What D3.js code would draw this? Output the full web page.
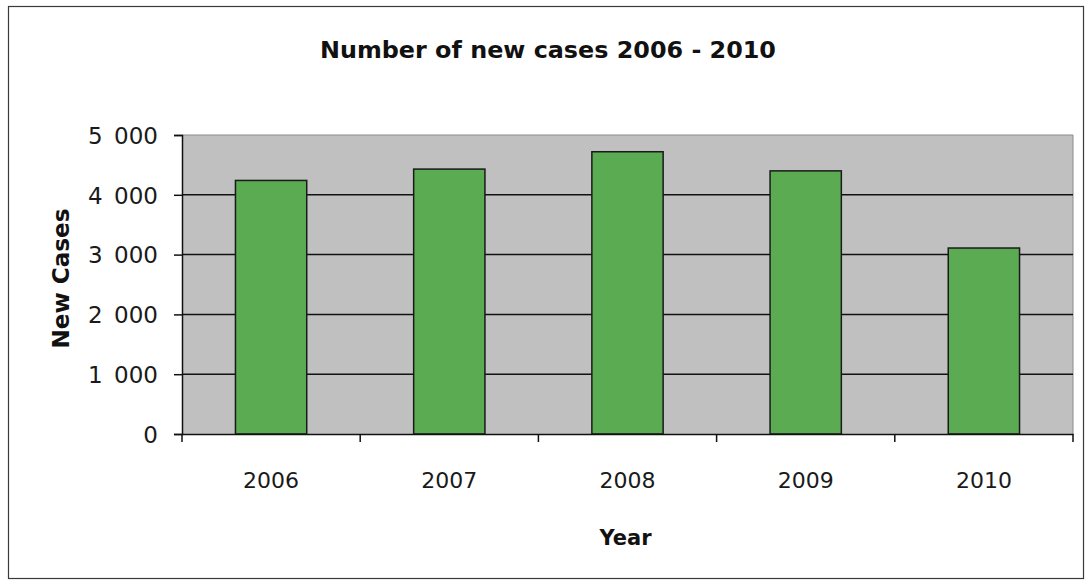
<!DOCTYPE html>
<html><head><meta charset="utf-8">
<script src="https://cdn.jsdelivr.net/npm/d3@7"></script>
<style>body{margin:0;background:#fff;} svg{display:block;}</style>
</head><body>
<svg id="c" width="1088" height="584"></svg>
<script>
const years = ["2006","2007","2008","2009","2010"];
const newCases = [4240, 4430, 4720, 4400, 3110];
const yTicks = [0, 1000, 2000, 3000, 4000, 5000];
const titleText = "Number of new cases 2006 - 2010";
const xTitle = "Year";
const yTitle = "New Cases";

const svg = d3.select("#c");
const W = 1088, H = 584;
const plot = {l: 182, r: 1073, t: 135, b: 434};
const fam = "'DejaVu Sans', Verdana, sans-serif";

svg.append("rect").attr("width", W).attr("height", H).attr("fill", "#fff");
svg.append("rect").attr("x", 8.5).attr("y", 6.5).attr("width", 1075).attr("height", 572)
  .attr("fill", "none").attr("stroke", "#3a3a3a").attr("stroke-width", 1.2);

function fit(sel, target) {
  const n = sel.node();
  let fs = parseFloat(sel.attr("font-size"));
  const w = n.getComputedTextLength();
  if (w > 0) sel.attr("font-size", (fs * target / w).toFixed(2));
}

const x = d3.scaleBand().domain(years).range([plot.l, plot.r]).paddingInner(0.6).paddingOuter(0.3);
const y = d3.scaleLinear().domain([0, 5000]).range([plot.b, plot.t]);

svg.append("rect").attr("x", plot.l).attr("y", plot.t).attr("width", plot.r - plot.l).attr("height", plot.b - plot.t)
  .attr("fill", "#c0c0c0");
svg.append("path").attr("d", `M${plot.l},${plot.t}H${plot.r}V${plot.b}`).attr("fill", "none")
  .attr("stroke", "#8c8c8c").attr("stroke-width", 1);

svg.append("g").selectAll("line").data(yTicks.filter(d => d > 0 && d < 5000)).join("line")
  .attr("x1", plot.l).attr("x2", plot.r).attr("y1", d => y(d)).attr("y2", d => y(d))
  .attr("stroke", "#111").attr("stroke-width", 1.5);

svg.append("g").selectAll("rect").data(years).join("rect")
  .attr("x", (d) => x(d)).attr("width", x.bandwidth())
  .attr("y", (d, i) => y(newCases[i])).attr("height", (d, i) => y(0) - y(newCases[i]))
  .attr("fill", "#5aab52").attr("stroke", "#1a1a1a").attr("stroke-width", 1.5);

const yAxis = svg.append("g").attr("transform", `translate(${plot.l},0)`)
  .call(d3.axisLeft(y).tickValues(yTicks).tickSize(8).tickPadding(16)
    .tickFormat(d => d3.format(",")(d).replace(/,/g, "\u2002")));
yAxis.select(".domain").attr("stroke", "#111").attr("stroke-width", 1.5);
yAxis.selectAll(".tick line").attr("stroke", "#111").attr("stroke-width", 1.5);
yAxis.selectAll("text").attr("font-family", fam).attr("font-size", 23).attr("fill", "#1a1a1a")
  .attr("font-weight", "normal").attr("dy", "0.36em");

const xAxis = svg.append("g").attr("transform", `translate(0,${plot.b})`)
  .call(d3.axisBottom(x).tickSize(0).tickPadding(54));
xAxis.select(".domain").attr("stroke", "#111").attr("stroke-width", 1.5);
xAxis.selectAll("text").attr("font-family", fam).attr("font-size", 22).attr("fill", "#1a1a1a").attr("dy", 0);
const bounds = [plot.l].concat(years.map(d => x(d) + x.bandwidth() + x.step() * 0.3));
svg.append("g").selectAll("line").data(bounds).join("line")
  .attr("x1", d => d).attr("x2", d => d).attr("y1", plot.b).attr("y2", plot.b + 8)
  .attr("stroke", "#111").attr("stroke-width", 1.5);

const t = svg.append("text").attr("x", 548).attr("y", 58).attr("text-anchor", "middle")
  .attr("font-family", fam).attr("font-weight", "bold").attr("font-size", 20).attr("fill", "#111")
  .text(titleText);
fit(t, 456);

svg.append("text").attr("x", (plot.l + plot.r) / 2 - 2).attr("y", 545).attr("text-anchor", "middle")
  .attr("font-family", fam).attr("font-weight", "bold").attr("font-size", 21).attr("fill", "#111").text(xTitle);
const yt = svg.append("text").attr("transform", `translate(69,${(plot.t + plot.b) / 2 - 6}) rotate(-90)`)
  .attr("text-anchor", "middle").attr("font-family", fam).attr("font-weight", "bold").attr("font-size", 20)
  .attr("fill", "#111").text(yTitle);
fit(yt, 140);
</script>
</body></html>
